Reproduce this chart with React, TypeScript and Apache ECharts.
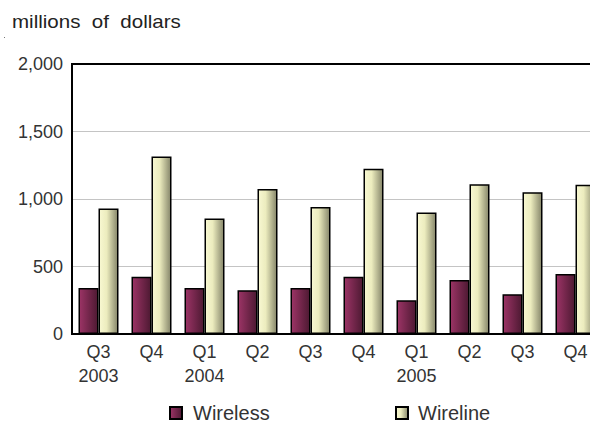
import React, { useEffect, useRef } from "react";
import * as echarts from "echarts";

const categories = ["Q3\n2003", "Q4", "Q1\n2004", "Q2", "Q3", "Q4", "Q1\n2005", "Q2", "Q3", "Q4"];
const wireless = [340, 425, 340, 325, 340, 425, 250, 400, 295, 445];
const wireline = [930, 1315, 855, 1075, 940, 1225, 900, 1110, 1050, 1105];
const yTicks = { min: 0, max: 2000, interval: 500 };
const titleText = "millions  of  dollars";

export default function App() {
  const ref = useRef<HTMLDivElement>(null);
  useEffect(() => {
    if (!ref.current) return;
    const chart = echarts.init(ref.current, undefined, { renderer: "svg" });
    const font = "'Liberation Sans', Arial, sans-serif";
    const wirelessFill = new echarts.graphic.LinearGradient(0, 0, 1, 0, [
      { offset: 0, color: "#9c3466" },
      { offset: 1, color: "#4d1932" },
    ]);
    const wirelineFill = new echarts.graphic.LinearGradient(0, 0, 1, 0, [
      { offset: 0, color: "#f8f8d2" },
      { offset: 0.4, color: "#ececbe" },
      { offset: 1, color: "#86866a" },
    ]);
    chart.setOption({
      animation: false,
      backgroundColor: "#ffffff",
      textStyle: { fontFamily: font },
      graphic: [
        {
          type: "text",
          x: 12,
          y: 13,
          scaleX: 1.14,
          style: { text: titleText, fill: "#222", font: `18px ${font}` },
        },
        { type: "rect", shape: { x: 4, y: 37, width: 1, height: 1 }, style: { fill: "#777" } },
      ],
      legend: [
        {
          data: ["Wireless"],
          left: 164,
          top: 398,
          icon: "rect",
          itemWidth: 12,
          itemHeight: 12,
          textStyle: { fontSize: 20, color: "#333", fontFamily: font, padding: [0, 0, 0, 6] },
        },
        {
          data: ["Wireline"],
          left: 390,
          top: 398,
          icon: "rect",
          itemWidth: 12,
          itemHeight: 12,
          textStyle: { fontSize: 20, color: "#333", fontFamily: font, padding: [0, 0, 0, 5] },
        },
      ],
      grid: {
        left: 72,
        top: 64,
        width: 530,
        height: 270,
        outerBoundsMode: "none",
        containLabel: false,
        show: true,
        borderColor: "#000",
        borderWidth: 2,
        backgroundColor: "transparent",
      },
      xAxis: {
        type: "category",
        data: categories,
        axisLine: { show: true, lineStyle: { color: "#000", width: 2 } },
        axisTick: { show: false },
        axisLabel: {
          color: "#333",
          fontSize: 18,
          lineHeight: 24,
          margin: 6,
          interval: 0,
          fontFamily: font,
        },
      },
      yAxis: {
        type: "value",
        min: yTicks.min,
        max: yTicks.max,
        interval: yTicks.interval,
        axisLine: { show: true, lineStyle: { color: "#000", width: 2 } },
        axisTick: { show: false },
        splitLine: { showMaxLine: false, lineStyle: { color: "#c4c4c4", width: 1 } },
        axisLabel: {
          color: "#333",
          fontSize: 18,
          margin: 9,
          fontFamily: font,
          formatter: (v: number) => v.toLocaleString("en-US"),
        },
      },
      series: [
        {
          name: "Wireless",
          type: "bar",
          data: wireless,
          barWidth: 20,
          barGap: "0%",
          itemStyle: { color: wirelessFill, borderColor: "#000", borderWidth: 1.5 },
        },
        {
          name: "Wireline",
          type: "bar",
          data: wireline,
          barWidth: 20,
          barGap: "0%",
          itemStyle: { color: wirelineFill, borderColor: "#000", borderWidth: 1.5 },
        },
      ],
    });
    return () => chart.dispose();
  }, []);
  return (
    <div
      ref={ref}
      style={{ position: "fixed", left: 0, top: 0, width: 590, height: 425, background: "#fff" }}
    />
  );
}
